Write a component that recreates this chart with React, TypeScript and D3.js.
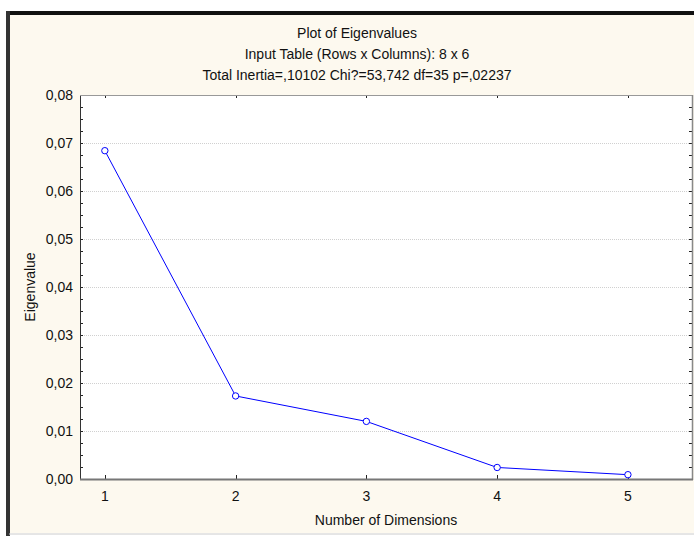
import React, { useRef, useEffect } from 'react';
import * as d3 from 'd3';

const dimensions = [1, 2, 3, 4, 5];
const eigenvalues = [0.0684, 0.0173, 0.0120, 0.0024, 0.0009];
const yTicks = [0, 0.01, 0.02, 0.03, 0.04, 0.05, 0.06, 0.07, 0.08];
const titles = [
  'Plot of Eigenvalues',
  'Input Table (Rows x Columns): 8 x 6',
  'Total Inertia=,10102 Chi?=53,742 df=35 p=,02237',
];

const App = () => {
  const svgRef = useRef(null);

  useEffect(() => {
    const width = 694;
    const height = 536;
    const m = { left: 80, right: 692, top: 95, bottom: 479 };
    const svg = d3.select(svgRef.current);
    svg.selectAll('*').remove();

    const x = d3.scaleLinear().domain([0.81, 5.49]).range([m.left, m.right]);
    const y = d3.scaleLinear().domain([0, 0.08]).range([m.bottom, m.top]);
    const fmt = (v) => d3.format('.2f')(v).replace('.', ',');

    // frame
    svg.append('rect').attr('width', width).attr('height', height).attr('fill', '#fff');
    svg.append('rect').attr('x', 9).attr('y', 14).attr('width', width - 9).attr('height', 519).attr('fill', '#fdf9ef');
    svg.append('rect').attr('x', 6).attr('y', 11).attr('width', width - 6).attr('height', 4).attr('fill', '#111');
    svg.append('rect').attr('x', 6).attr('y', 11).attr('width', 4).attr('height', height - 11).attr('fill', '#333');
    svg.append('line').attr('x1', 9).attr('x2', width).attr('y1', 534).attr('y2', 534).attr('stroke', '#ccc');

    svg.append('rect')
      .attr('x', m.left).attr('y', m.top)
      .attr('width', m.right - m.left).attr('height', m.bottom - m.top)
      .attr('fill', '#fff');

    const g = svg.append('g').attr('font-family', 'Liberation Sans, Arial, sans-serif').attr('font-size', 14).attr('fill', '#111');

    // titles
    g.selectAll('text.title')
      .data(titles)
      .join('text')
      .attr('class', 'title')
      .attr('x', 357)
      .attr('y', (d, i) => 38 + i * 21)
      .attr('text-anchor', 'middle')
      .text(d => d);

    // grid
    svg.append('g')
      .selectAll('line')
      .data(yTicks.slice(1, -1))
      .join('line')
      .attr('x1', m.left).attr('x2', m.right)
      .attr('y1', d => Math.round(y(d)) + 0.5).attr('y2', d => Math.round(y(d)) + 0.5)
      .attr('stroke', '#d0d0d0')
      .attr('stroke-dasharray', '1,1');

    // minor ticks left and right
    const minor = d3.range(0, 0.08001, 0.0025);
    svg.append('g')
      .selectAll('line')
      .data(minor)
      .join('line')
      .attr('x1', m.left).attr('x2', m.left + 3)
      .attr('y1', d => Math.round(y(d)) + 0.5).attr('y2', d => Math.round(y(d)) + 0.5)
      .attr('stroke', '#222');
    svg.append('g')
      .selectAll('line')
      .data(minor)
      .join('line')
      .attr('x1', m.right - 3).attr('x2', m.right)
      .attr('y1', d => Math.round(y(d)) + 0.5).attr('y2', d => Math.round(y(d)) + 0.5)
      .attr('stroke', '#222');

    // category ticks top and bottom
    svg.append('g')
      .selectAll('line')
      .data(dimensions)
      .join('line')
      .attr('x1', d => Math.round(x(d)) + 0.5).attr('x2', d => Math.round(x(d)) + 0.5)
      .attr('y1', m.bottom).attr('y2', m.bottom - 4)
      .attr('stroke', '#222');
    svg.append('g')
      .selectAll('line')
      .data(dimensions)
      .join('line')
      .attr('x1', d => Math.round(x(d)) + 0.5).attr('x2', d => Math.round(x(d)) + 0.5)
      .attr('y1', m.top).attr('y2', m.top + 3)
      .attr('stroke', '#222');

    // plot borders
    svg.append('line').attr('x1', m.left + 0.5).attr('x2', m.left + 0.5).attr('y1', m.top).attr('y2', m.bottom + 1).attr('stroke', '#333');
    svg.append('line').attr('x1', m.left).attr('x2', m.right + 1).attr('y1', m.top + 0.5).attr('y2', m.top + 0.5).attr('stroke', '#999');
    svg.append('line').attr('x1', m.right + 0.5).attr('x2', m.right + 0.5).attr('y1', m.top).attr('y2', m.bottom + 1).attr('stroke', '#888').attr('stroke-width', 1.5);
    svg.append('line').attr('x1', m.left).attr('x2', m.right + 1).attr('y1', m.bottom + 0.5).attr('y2', m.bottom + 0.5).attr('stroke', '#777').attr('stroke-width', 2);

    // tick labels
    g.selectAll('text.ylab')
      .data(yTicks)
      .join('text')
      .attr('class', 'ylab')
      .attr('x', m.left - 7)
      .attr('y', d => y(d) + 5)
      .attr('text-anchor', 'end')
      .text(d => fmt(d));
    g.selectAll('text.xlab')
      .data(dimensions)
      .join('text')
      .attr('class', 'xlab')
      .attr('x', d => x(d))
      .attr('y', m.bottom + 22)
      .attr('text-anchor', 'middle')
      .text(d => d);

    // axis titles
    g.append('text')
      .attr('x', (m.left + m.right) / 2)
      .attr('y', 525)
      .attr('text-anchor', 'middle')
      .text('Number of Dimensions');
    g.append('text')
      .attr('transform', `translate(35,${(m.top + m.bottom) / 2}) rotate(-90)`)
      .attr('text-anchor', 'middle')
      .text('Eigenvalue');

    // series
    const pts = dimensions.map((d, i) => [d, eigenvalues[i]]);
    const line = d3.line().x(d => x(d[0])).y(d => y(d[1]));
    svg.append('path')
      .attr('d', line(pts))
      .attr('fill', 'none')
      .attr('stroke', '#0000ff')
      .attr('stroke-width', 1);
    svg.append('g')
      .selectAll('circle')
      .data(pts)
      .join('circle')
      .attr('cx', d => x(d[0]))
      .attr('cy', d => y(d[1]))
      .attr('r', 3.2)
      .attr('fill', '#fff')
      .attr('stroke', '#0000ff')
      .attr('stroke-width', 1);
  }, []);

  return (
    <svg ref={svgRef} width={694} height={536} style={{ position: 'absolute', left: 0, top: 0, display: 'block' }}></svg>
  );
};

export default App;
